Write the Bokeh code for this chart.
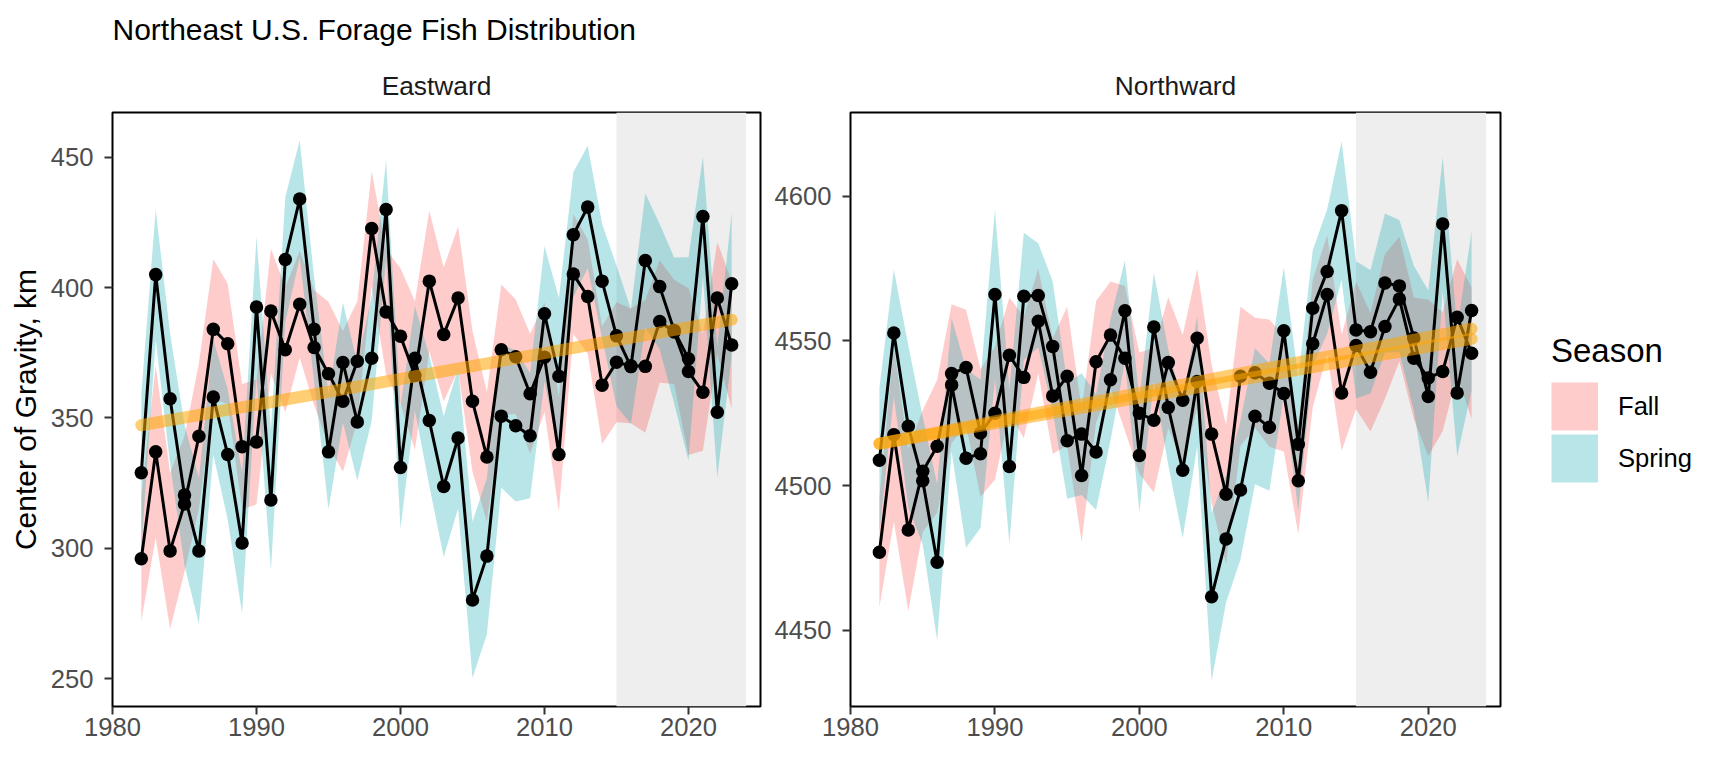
from bokeh.plotting import figure
from bokeh.layouts import row
from bokeh.models import Range1d, FixedTicker, Title, Legend, LegendItem, BoxAnnotation
from bokeh.embed import file_html
from bokeh.resources import INLINE

years = list(range(1982, 2024))
x_ticks = [1980, 1990, 2000, 2010, 2020]
east_ticks = [250, 300, 350, 400, 450]
north_ticks = [4450, 4500, 4550, 4600]
shade_years = [2015, 2024]

east_fall = [296,337,299,317,343,384,378.5,339,340.8,391,376.2,393.6,377,367,356.4,371.8,422.7,390.7,381.4,366.3,402.5,382,396,356.4,335,376.2,373.5,359.3,373.3,336,405.2,396.6,362.6,371.4,370,369.8,387,383,367.8,359.9,396,378]
east_fall_sd = [24,33,30,26,28,27,23,24,24,24,24,20.5,22,27.6,27,23,22,24,26,28.5,27,25.7,27.5,27,25,25,22,23,21,22,23,22,22.6,23,22,25.5,23.5,20,32,22.5,21.5,24.5]
east_spring = [329,405,357.4,320.4,299,358,336,302,392.6,318.5,410.8,434,384,337,371.3,348.5,372.9,430,331,372.9,349,323.7,342.3,280.2,297,350.7,347,343.2,390,366,420.3,430.9,402.5,381.5,369.7,410.4,400.4,383.6,372.7,427.3,352.2,401.5]
east_spring_sd = [30,25,25,27,28,22,25,27,27,27,24,22.6,20,22,23,22.5,24,19,23.5,20,25,27,27,30,30,27.5,29,24,26,30,24,23.5,22,27,22,25.7,24,28,39,23,25,27.5]

north_fall = [4477,4517.6,4484.7,4505,4513.6,4538.7,4540.8,4518.2,4525,4545,4537.4,4556.8,4531,4537.8,4503.5,4542.8,4552,4544,4525,4522.6,4542.5,4529.5,4550.9,4517.8,4497,4537.8,4539,4535.4,4531.8,4501.7,4549,4566,4532,4548.4,4539.2,4555,4564.5,4544,4537.2,4539.4,4558.2,4545.7]
north_fall_sd = [19,30,28,21,23,24,20,22,23,20,21,18,20,24,23,21,18.5,25,21,25,22.6,22.5,24,24,24,24,19,22,20,18.4,22,20.5,20,22,20.5,25,21.5,21,27,20.5,20,22.7]
north_spring = [4508.8,4552.7,4520.5,4501.7,4473.5,4534.8,4509.5,4511,4566,4506.6,4565.4,4565.7,4548.1,4515.5,4517.8,4511.6,4536.6,4560.4,4510.4,4554.8,4527,4505.3,4536,4461.6,4481.6,4498.5,4524,4520.2,4553.5,4514.3,4561.3,4574,4595,4553.8,4553.2,4570,4569,4551,4530.8,4590.4,4532,4560.5]
north_spring_sd = [25,22,28,22,27,23,31,25.6,29.4,26.6,22,18,22.4,20,21,20,21,17.5,19.5,18.7,20,23.4,22.6,29,22,24,23.5,22,22,23,20,21.5,24,23.7,21.3,24,22.8,25,36.6,23,22,27.5]

trend_years = [1982, 2023]
east_trend = [347.2, 387.7]
north_trend_fall = [4514.5, 4550.7]
north_trend_spring = [4514.5, 4554.2]

PINK, PINK_A = "#FF0000", 0.2
TEAL, TEAL_A = "#00A6AD", 0.28
FONT = "Liberation Sans"


def panel(strip, values_f, sd_f, values_s, sd_s, trends, yr, yticks, left, right, fw):
    p = figure(width=left + fw + right, height=110 + 594 + 55,
               frame_width=fw, frame_height=594,
               min_border_left=left, min_border_right=right,
               min_border_top=110, min_border_bottom=55,
               x_range=Range1d(1980, 2025), y_range=Range1d(*yr),
               output_backend="svg", toolbar_location=None)
    p.grid.visible = False
    p.outline_line_color = "black"
    p.outline_line_width = 2
    for ax, ticks in ((p.xaxis[0], x_ticks), (p.yaxis[0], yticks)):
        ax.ticker = FixedTicker(ticks=ticks)
        ax.axis_line_color = None
        ax.major_tick_line_color = "#333333"
        ax.major_tick_line_width = 2
        ax.major_tick_out = 8
        ax.major_tick_in = 0
        ax.minor_tick_line_color = None
        ax.major_label_text_color = "#4D4D4D"
        ax.major_label_text_font = FONT
        ax.major_label_text_font_size = "25.6px"
    p.xaxis[0].major_label_standoff = 3
    p.yaxis[0].major_label_standoff = 11
    p.add_layout(Title(text=strip, align="center", standoff=24, text_font=FONT, text_font_style="normal",
                       text_font_size="26.3px", text_color="#1A1A1A"), "above")

    p.add_layout(BoxAnnotation(left=shade_years[0], right=shade_years[1], fill_color="#EEEEEE",
                               fill_alpha=1, line_color=None, level="underlay"))
    p.varea(years, [v - s for v, s in zip(values_f, sd_f)], [v + s for v, s in zip(values_f, sd_f)],
            fill_color=PINK, fill_alpha=PINK_A)
    p.varea(years, [v - s for v, s in zip(values_s, sd_s)], [v + s for v, s in zip(values_s, sd_s)],
            fill_color=TEAL, fill_alpha=TEAL_A)
    for vals in (values_f, values_s):
        p.line(years, vals, line_color="black", line_width=3)
        p.scatter(years, vals, size=13.5, fill_color="black", line_color="black", line_width=0)
    for tr in trends:
        p.line(trend_years, tr, line_color="#FFA500", line_alpha=0.55, line_width=12, line_cap="round")
    return p


p1 = panel("Eastward", east_fall, east_fall_sd, east_spring, east_spring_sd, [east_trend],
           (239.3, 467.2), east_ticks, 112, 11, 648)
p1.yaxis[0].axis_label = "Center of Gravity, km"
p1.yaxis[0].axis_label_text_font = FONT
p1.yaxis[0].axis_label_text_font_style = "normal"
p1.yaxis[0].axis_label_text_font_size = "30px"
p1.yaxis[0].axis_label_text_color = "black"
p1.yaxis[0].axis_label_standoff = 6
p1.title.text = "Northeast U.S. Forage Fish Distribution"
p1.title.align = "left"
p1.title.standoff = 21
p1.title.text_font = FONT
p1.title.text_font_style = "normal"
p1.title.text_font_size = "30px"
p1.title.text_color = "black"

p2 = panel("Northward", north_fall, north_fall_sd, north_spring, north_spring_sd,
           [north_trend_fall, north_trend_spring], (4423.7, 4628.9), north_ticks, 71, 218, 650)
p2.title.visible = False
# Legend keys: a one-point line draws nothing in the plot, and its legend glyph fills the key box.
key_fall = p2.line(years[:1], north_fall[:1], line_color=PINK, line_alpha=PINK_A, line_width=48)
key_spring = p2.line(years[:1], north_spring[:1], line_color=TEAL, line_alpha=TEAL_A, line_width=48)
legend = Legend(items=[LegendItem(label="Fall", renderers=[key_fall]), LegendItem(label="Spring", renderers=[key_spring])],
                title="Season", location=(51, 222), orientation="vertical",
                glyph_width=47, glyph_height=52, spacing=0, padding=0, margin=0,
                border_line_color=None, background_fill_color=None,
                label_text_font=FONT, label_text_font_size="25.6px", label_text_color="black", label_standoff=20,
                title_text_font=FONT, title_text_font_style="normal", title_text_font_size="33px",
                title_text_color="black", title_standoff=10)
p2.add_layout(legend, "right")

open("out.html", "w").write(file_html(row(p1, p2), INLINE))
